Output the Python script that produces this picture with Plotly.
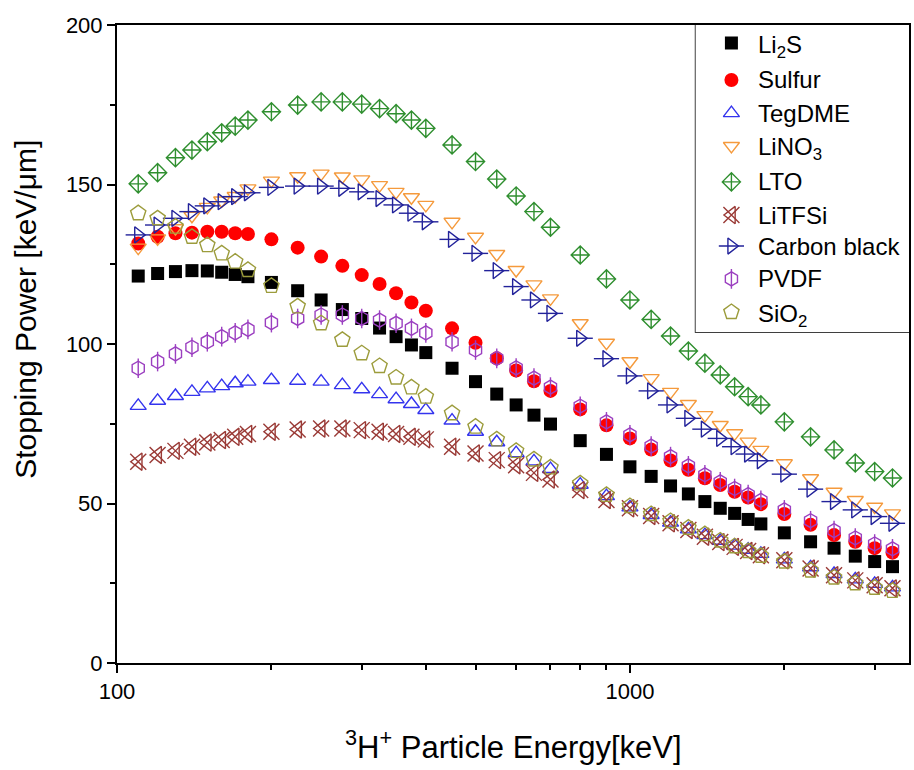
import math
import plotly.graph_objects as go

# ---------------- data ----------------
energy = [110, 120, 130, 140, 150, 160, 170, 180, 200, 225, 250, 275, 300, 325, 350, 375, 400,
          450, 500, 550, 600, 650, 700, 800, 900, 1000, 1100, 1200, 1300, 1400, 1500, 1600,
          1700, 1800, 2000, 2250, 2500, 2750, 3000, 3250]

li2s = [121.3, 122.1, 122.7, 123.0, 122.9, 122.5, 121.8, 121.1, 119.3, 116.7, 113.8, 110.8,
        108.0, 105.0, 102.3, 99.7, 97.3, 92.4, 88.2, 84.3, 80.9, 77.7, 74.9, 69.7, 65.4, 61.5,
        58.5, 55.5, 53.0, 50.6, 48.5, 46.9, 45.0, 43.6, 40.8, 38.0, 36.0, 33.5, 31.8, 30.2]

sulfur = [131.5, 133.6, 134.7, 134.9, 135.2, 135.2, 134.7, 134.5, 132.8, 130.2, 127.4, 124.5,
          121.6, 118.8, 115.9, 113.0, 110.4, 104.9, 100.4, 95.5, 91.7, 88.3, 85.3, 79.5, 74.5,
          70.4, 66.9, 63.5, 60.6, 57.9, 55.8, 53.7, 51.9, 49.8, 46.7, 43.3, 40.1, 38.0, 36.0, 34.6]

tegdme = [80.6, 82.2, 83.7, 85.0, 86.1, 86.8, 87.7, 88.2, 88.7, 88.5, 88.2, 87.1, 85.8, 84.3,
          82.7, 81.2, 79.3, 76.0, 72.5, 69.2, 65.8, 63.2, 60.8, 55.9, 52.3, 48.8, 46.4, 44.0,
          41.9, 40.1, 38.3, 36.8, 35.5, 34.2, 32.5, 30.0, 27.9, 26.2, 24.8, 23.7]

lino3 = [130.2, 133.1, 136.3, 140.2, 143.0, 145.0, 146.4, 148.8, 151.2, 152.6, 153.4, 152.5,
         151.6, 149.8, 147.7, 146.0, 143.6, 138.3, 133.6, 128.2, 123.2, 118.7, 114.3, 106.5,
         100.4, 94.6, 89.3, 85.0, 81.2, 77.7, 74.6, 72.0, 69.4, 66.8, 62.6, 57.9, 53.7, 51.1,
         49.0, 46.9]

lto = [150.2, 153.7, 158.4, 160.8, 163.4, 166.2, 168.3, 170.2, 172.8, 174.9, 175.9, 175.9,
       175.2, 173.8, 172.2, 170.2, 167.6, 162.4, 157.2, 151.7, 146.4, 141.5, 136.6, 127.9,
       120.4, 113.8, 107.7, 102.5, 97.8, 94.0, 90.3, 86.6, 83.5, 80.9, 75.6, 70.9, 66.8, 62.7,
       60.0, 58.0]

litfsi = [63.1, 65.2, 66.5, 67.8, 69.1, 69.9, 70.9, 71.8, 72.5, 73.2, 73.5, 73.5, 73.0, 72.5,
          71.8, 70.9, 70.1, 67.8, 65.7, 63.6, 62.0, 59.6, 57.5, 54.2, 51.1, 48.5, 46.1, 43.8,
          41.7, 39.6, 37.9, 36.4, 35.1, 33.8, 32.2, 29.6, 27.5, 25.9, 24.4, 23.4]

carbon_black = [134.2, 137.3, 139.4, 141.5, 143.3, 144.6, 146.2, 147.4, 149.1, 149.5, 149.5,
                148.8, 147.7, 145.6, 143.6, 141.0, 138.3, 132.8, 128.4, 123.0, 118.0, 113.8,
                109.6, 101.8, 95.4, 90.0, 85.3, 80.9, 76.7, 73.3, 70.4, 67.8, 65.5, 63.4, 59.2,
                54.5, 50.6, 48.0, 45.9, 43.8]

pvdf = [92.4, 94.5, 96.9, 99.0, 100.7, 102.3, 103.5, 104.6, 106.7, 108.0, 109.1, 109.1, 108.0,
        107.5, 106.5, 104.9, 103.5, 100.7, 98.1, 95.5, 92.5, 89.3, 86.5, 80.5, 75.6, 71.5, 68.0,
        64.7, 61.8, 59.0, 56.8, 54.7, 52.8, 51.0, 48.0, 44.6, 41.5, 39.2, 37.3, 35.8]

sio2 = [141.0, 139.4, 136.8, 133.6, 131.0, 128.4, 125.8, 123.2, 118.2, 111.8, 106.5, 101.3,
        97.1, 93.1, 89.5, 86.4, 83.5, 78.3, 74.1, 70.1, 66.5, 63.8, 61.3, 56.3, 52.7, 49.2,
        46.7, 44.5, 42.4, 40.4, 38.4, 36.6, 35.1, 33.6, 31.8, 29.0, 26.8, 25.0, 23.6, 22.6]

names = ["Li<sub>2</sub>S", "Sulfur", "TegDME", "LiNO<sub>3</sub>", "LTO", "LiTFSi",
         "Carbon black", "PVDF", "SiO<sub>2</sub>"]
values = [li2s, sulfur, tegdme, lino3, lto, litfsi, carbon_black, pvdf, sio2]

# ---------------- styles ----------------
colors = ["#000000", "#ff0000", "#3434ee", "#f59a3c", "#2f8f2f", "#9a3a36",
          "#22229a", "#9b3fc0", "#9c9c3c"]
# each marker may be made of layered plotly symbols: (symbol, size, line width)
layers = [
    [("square", 13, 0)],
    [("circle", 14, 0)],
    [("triangle-up-open", 14, 1.4)],
    [("triangle-down-open", 14, 1.4)],
    [("diamond-cross-open", 14, 1.4)],
    [("triangle-left-open", 15, 1.4), ("x-thin-open", 16, 1.4)],
    [("triangle-right-open", 14, 1.4), ("line-ew-open", 18, 1.4)],
    [("hexagon-open", 14, 1.4), ("line-ns-open", 14, 1.4)],
    [("pentagon-open", 16, 1.4)],
]

FONT = "Liberation Sans, Arial, sans-serif"

fig = go.Figure()

for name, vals, col, lay in zip(names, values, colors, layers):
    for sym, size, lw in lay:
        fig.add_trace(go.Scatter(
            x=energy, y=vals, mode="markers", name=name, showlegend=False,
            marker=dict(symbol=sym, size=size, color=col,
                        line=dict(color=col, width=lw)),
            hoverinfo="x+y+name",
        ))

# ---------------- custom legend (composite symbols) ----------------
leg_y = [0.941, 0.821, 0.713, 0.606, 0.489, 0.381, 0.280, 0.173, 0.065]
leg_mx = 0.168
leg_tx = 0.285
for name, col, lay, ly in zip(names, colors, layers, leg_y):
    for sym, size, lw in lay:
        fig.add_trace(go.Scatter(
            x=[leg_mx], y=[ly], mode="markers", showlegend=False, hoverinfo="skip",
            xaxis="x2", yaxis="y2",
            marker=dict(symbol=sym, size=size, color=col, line=dict(color=col, width=lw)),
        ))
    off = -3 if "<sub>" in name else 0
    fig.add_annotation(x=leg_tx, y=ly, xref="x2", yref="y2", text=name, showarrow=False,
                       xanchor="left", yanchor="middle", yshift=off,
                       font=dict(family=FONT, size=24, color="black"))

fig.add_shape(type="rect", xref="paper", yref="paper", x0=0.7305, x1=1.0, y0=0.5188, y1=1.0,
              line=dict(color="black", width=1.5), fillcolor="white", layer="below")

axis_common = dict(showline=True, linewidth=2, linecolor="black", mirror=True,
                   showgrid=False, zeroline=False, ticks="outside", ticklen=8, tickwidth=2,
                   tickcolor="black", tickfont=dict(family=FONT, size=22, color="black"))

fig.update_layout(
    width=914, height=770,
    margin=dict(l=117, r=3, t=25, b=107),
    paper_bgcolor="white", plot_bgcolor="white",
    font=dict(family=FONT, color="black"),
    showlegend=False,
    xaxis=dict(type="log", range=[2, math.log10(3500)], tickvals=[100, 1000],
               ticktext=["100", "1000"],
               minor=dict(tickvals=[200, 300, 400, 500, 600, 700, 800, 900, 2000, 3000],
                          ticks="outside", ticklen=5, tickwidth=2, tickcolor="black"),
               **axis_common),
    yaxis=dict(range=[0, 200], tickvals=[0, 50, 100, 150, 200],
               minor=dict(tickvals=[25, 75, 125, 175], ticks="outside", ticklen=5,
                          tickwidth=2, tickcolor="black"),
               **axis_common),
    xaxis2=dict(domain=[0.7305, 1.0], range=[0, 1], visible=False, anchor="y2"),
    yaxis2=dict(domain=[0.5188, 1.0], range=[0, 1], visible=False, anchor="x2"),
)

fig.add_annotation(x=0.5, y=-0.128, xref="paper", yref="paper", showarrow=False,
                   text="<sup>3</sup>H<sup>+</sup> Particle Energy[keV]",
                   xanchor="center", yanchor="middle",
                   font=dict(family=FONT, size=31, color="black"))
fig.add_annotation(x=-0.115, y=0.555, xref="paper", yref="paper", showarrow=False,
                   text="Stopping Power [keV/\u03bcm]", textangle=-90,
                   xanchor="center", yanchor="middle",
                   font=dict(family=FONT, size=30, color="black"))

fig.write_html("out.html")
